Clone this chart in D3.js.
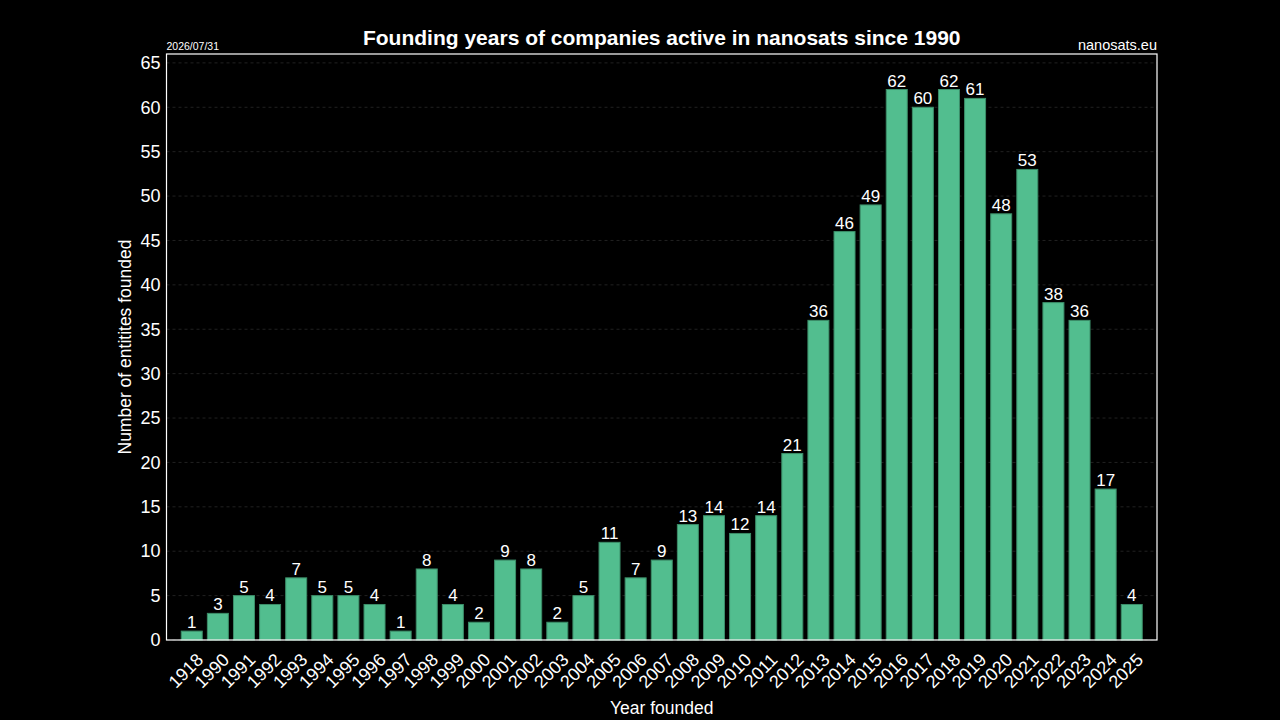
<!DOCTYPE html>
<html>
<head>
<meta charset="utf-8">
<script src="https://cdn.jsdelivr.net/npm/d3@7"></script>
<style>
  body { margin: 0; background: #000; }
  svg text { font-family: "Liberation Sans", Arial, sans-serif; fill: #fff; }
</style>
</head>
<body>
<div id="chart"></div>
<script>
// data
const years = ["1918", "1990", "1991", "1992", "1993", "1994", "1995", "1996", "1997", "1998",
               "1999", "2000", "2001", "2002", "2003", "2004", "2005", "2006", "2007", "2008",
               "2009", "2010", "2011", "2012", "2013", "2014", "2015", "2016", "2017", "2018",
               "2019", "2020", "2021", "2022", "2023", "2024", "2025"];
const counts = [1, 3, 5, 4, 7, 5, 5, 4, 1, 8,
                4, 2, 9, 8, 2, 5, 11, 7, 9, 13,
                14, 12, 14, 21, 36, 46, 49, 62, 60, 62,
                61, 48, 53, 38, 36, 17, 4];
const yTicks = [0, 5, 10, 15, 20, 25, 30, 35, 40, 45, 50, 55, 60, 65];

const width = 1280, height = 720;
const plot = {left: 166.5, right: 1157, top: 54, bottom: 640};

const svg = d3.select("#chart").append("svg")
    .attr("width", width)
    .attr("height", height);

const x = d3.scaleBand()
    .domain(years)
    .range([plot.left, plot.right])
    .paddingInner(0.196)
    .paddingOuter(0.565);

const y = d3.scaleLinear()
    .domain([0, 66])
    .range([plot.bottom, plot.top]);

// grid
svg.append("g")
    .selectAll("line")
    .data(yTicks)
    .join("line")
    .attr("x1", plot.left)
    .attr("x2", plot.right)
    .attr("y1", d => y(d))
    .attr("y2", d => y(d))
    .attr("stroke", "#2a2a2a")
    .attr("stroke-dasharray", "3,3")
    .attr("stroke-width", 0.8);

// bars
svg.append("g")
    .selectAll("rect")
    .data(counts)
    .join("rect")
    .attr("x", (d, i) => x(years[i]))
    .attr("y", d => y(d))
    .attr("width", x.bandwidth())
    .attr("height", d => y(0) - y(d))
    .attr("fill", "#52be8f")
    .attr("stroke", "#3c8e69")
    .attr("stroke-width", 1);

// value labels
svg.append("g")
    .selectAll("text")
    .data(counts)
    .join("text")
    .attr("x", (d, i) => x(years[i]) + x.bandwidth() / 2)
    .attr("y", d => y(d) - 3)
    .attr("text-anchor", "middle")
    .style("font-size", "17px")
    .text(d => d);

// frame
svg.append("rect")
    .attr("x", plot.left)
    .attr("y", plot.top)
    .attr("width", plot.right - plot.left)
    .attr("height", plot.bottom - plot.top)
    .attr("fill", "none")
    .attr("stroke", "#fff")
    .attr("stroke-width", 1.2);

// y axis
const yAxis = svg.append("g")
    .attr("transform", `translate(${plot.left},0)`)
    .call(d3.axisLeft(y).tickValues(yTicks).tickSize(0).tickPadding(6));
yAxis.select(".domain").remove();
yAxis.selectAll("text").style("font-size", "18px").attr("fill", "#fff");

// x axis
const xAxis = svg.append("g")
    .attr("transform", `translate(0,${plot.bottom})`)
    .call(d3.axisBottom(x).tickSize(0));
xAxis.select(".domain").remove();
xAxis.selectAll("text")
    .style("font-size", "18px")
    .attr("fill", "#fff")
    .attr("text-anchor", "end")
    .attr("dy", null)
    .attr("y", 0)
    .attr("transform", "translate(12.5,21) rotate(-45)");

// titles
svg.append("text")
    .attr("x", (plot.left + plot.right) / 2)
    .attr("y", 45)
    .attr("text-anchor", "middle")
    .style("font-size", "21px")
    .style("font-weight", "bold")
    .text("Founding years of companies active in nanosats since 1990");

svg.append("text")
    .attr("x", plot.left)
    .attr("y", 50)
    .style("font-size", "10.5px")
    .text("2026/07/31");

svg.append("text")
    .attr("x", plot.right)
    .attr("y", 50)
    .attr("text-anchor", "end")
    .style("font-size", "14.5px")
    .text("nanosats.eu");

svg.append("text")
    .attr("x", (plot.left + plot.right) / 2)
    .attr("y", 714)
    .attr("text-anchor", "middle")
    .style("font-size", "17.5px")
    .text("Year founded");

svg.append("text")
    .attr("transform", `translate(131,${(plot.top + plot.bottom) / 2}) rotate(-90)`)
    .attr("text-anchor", "middle")
    .style("font-size", "17.5px")
    .text("Number of entitites founded");
</script>
</body>
</html>
